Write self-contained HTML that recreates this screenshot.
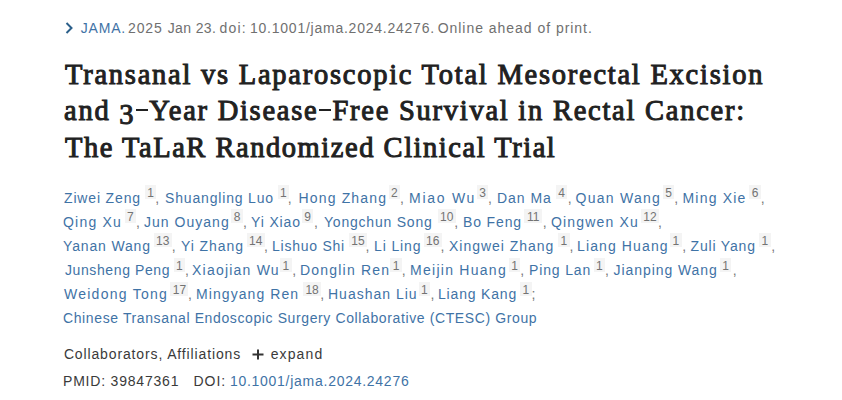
<!DOCTYPE html>
<html><head><meta charset="utf-8">
<style>
html,body{margin:0;padding:0;background:#fff;width:842px;height:400px;overflow:hidden}
body{font-family:"Liberation Sans",sans-serif;color:#212121;position:relative}
.t{position:absolute;white-space:nowrap;line-height:20px;font-size:14px}
.cit{color:#707070}
.j{color:#3f73a6}
.chev{position:absolute;left:65px;top:22px;width:9px;height:12px}
.plus{position:absolute;left:251.5px;top:349.2px;width:12px;height:11px}
.h{position:absolute;left:0;white-space:nowrap;font-family:"Liberation Serif",serif;font-weight:normal;font-size:28.5px;line-height:40px;color:#212121;-webkit-text-stroke:1px #212121}
.o3{position:relative;top:3.5px}
.dash{display:inline-block;width:12px;height:2px;background:#212121;vertical-align:9px;margin:0 1px}
.a{position:absolute;white-space:nowrap;font-size:14px;line-height:20px;color:#3f73a6}
.s{position:absolute;height:14px;background:#f4f4f4;color:#737373;font-size:12px;line-height:16px;text-align:center;overflow:hidden}
.p{position:absolute;font-size:14px;line-height:20px;color:#777}
.d{color:#3a3a3a}
</style></head><body>
<svg class="chev" viewBox="0 0 9 12"><path d="M1.5 1 L6.5 6 L1.5 11" fill="none" stroke="#2b5f8a" stroke-width="2"/></svg>
<div class="t j" id="c1" style="left:80.80px;top:18.00px;letter-spacing:0.800px">JAMA.</div>
<div class="t cit" id="c2" style="left:128.00px;top:18.00px;letter-spacing:0.867px">2025</div>
<div class="t cit" id="c6" style="left:167.70px;top:18.00px;letter-spacing:0.383px">Jan 23.</div>
<div class="t cit" id="c3" style="left:219.40px;top:18.00px;letter-spacing:1.267px">doi:</div>
<div class="t cit" id="c4" style="left:250.00px;top:18.00px;letter-spacing:0.761px">10.1001/jama.2024.24276.</div>
<div class="t cit" id="c5" style="left:437.70px;top:18.00px;letter-spacing:0.967px">Online ahead of print.</div>
<div class="h" id="h1" style="left:65.00px;top:55.00px;letter-spacing:1.752px">Transanal vs Laparoscopic Total Mesorectal Excision</div>
<div class="h" id="h2" style="left:64.00px;top:91.00px;letter-spacing:1.744px">and <span class="o3">3</span><span class="dash"></span>Year Disease<span class="dash"></span>Free Survival in Rectal Cancer:</div>
<div class="h" id="h3" style="left:65.00px;top:128.00px;letter-spacing:1.535px">The TaLaR Randomized Clinical Trial</div>
<span class="a" style="left:64.00px;top:187.5px;letter-spacing:0.844px">Ziwei Zeng</span>
<span class="s" style="left:144.9px;top:185.0px;width:11.5px">1</span>
<span class="p" style="left:155.2px;top:187.5px">,</span>
<span class="a" style="left:165.00px;top:187.5px;letter-spacing:0.831px">Shuangling Luo</span>
<span class="s" style="left:277.6px;top:185.0px;width:11.5px">1</span>
<span class="p" style="left:287.8px;top:187.5px">,</span>
<span class="a" style="left:298.50px;top:187.5px;letter-spacing:1.156px">Hong Zhang</span>
<span class="s" style="left:388.6px;top:185.0px;width:11.5px">2</span>
<span class="p" style="left:400.1px;top:187.5px">,</span>
<span class="a" style="left:409.00px;top:187.5px;letter-spacing:1.733px">Miao Wu</span>
<span class="s" style="left:476.9px;top:185.0px;width:11.5px">3</span>
<span class="p" style="left:487.9px;top:187.5px">,</span>
<span class="a" style="left:497.00px;top:187.5px;letter-spacing:0.960px">Dan Ma</span>
<span class="s" style="left:555.8px;top:185.0px;width:11.5px">4</span>
<span class="p" style="left:567.7px;top:187.5px">,</span>
<span class="a" style="left:575.50px;top:187.5px;letter-spacing:1.275px">Quan Wang</span>
<span class="s" style="left:662.9px;top:185.0px;width:11.5px">5</span>
<span class="p" style="left:674.2px;top:187.5px">,</span>
<span class="a" style="left:682.50px;top:187.5px;letter-spacing:1.200px">Ming Xie</span>
<span class="s" style="left:749.4px;top:185.0px;width:11.5px">6</span>
<span class="p" style="left:760.8px;top:187.5px">,</span>
<span class="a" style="left:63.00px;top:211.7px;letter-spacing:1.200px">Qing Xu</span>
<span class="s" style="left:124.6px;top:209.2px;width:11.5px">7</span>
<span class="p" style="left:136.0px;top:211.7px">,</span>
<span class="a" style="left:144.00px;top:211.7px;letter-spacing:1.022px">Jun Ouyang</span>
<span class="s" style="left:231.3px;top:209.2px;width:11.5px">8</span>
<span class="p" style="left:243.0px;top:211.7px">,</span>
<span class="a" style="left:251.00px;top:211.7px;letter-spacing:0.867px">Yi Xiao</span>
<span class="s" style="left:301.9px;top:209.2px;width:11.5px">9</span>
<span class="p" style="left:314.0px;top:211.7px">,</span>
<span class="a" style="left:324.00px;top:211.7px;letter-spacing:0.783px">Yongchun Song</span>
<span class="s" style="left:437.8px;top:209.2px;width:18px">10</span>
<span class="p" style="left:454.2px;top:211.7px">,</span>
<span class="a" style="left:463.00px;top:211.7px;letter-spacing:0.867px">Bo Feng</span>
<span class="s" style="left:524.3px;top:209.2px;width:18px">11</span>
<span class="p" style="left:542.8px;top:211.7px">,</span>
<span class="a" style="left:551.00px;top:211.7px;letter-spacing:1.156px">Qingwen Xu</span>
<span class="s" style="left:640.9px;top:209.2px;width:18px">12</span>
<span class="p" style="left:658.1px;top:211.7px">,</span>
<span class="a" style="left:63.00px;top:235.9px;letter-spacing:0.844px">Yanan Wang</span>
<span class="s" style="left:153.7px;top:233.4px;width:18px">13</span>
<span class="p" style="left:171.7px;top:235.9px">,</span>
<span class="a" style="left:181.00px;top:235.9px;letter-spacing:0.914px">Yi Zhang</span>
<span class="s" style="left:246.8px;top:233.4px;width:18px">14</span>
<span class="p" style="left:263.9px;top:235.9px">,</span>
<span class="a" style="left:272.00px;top:235.9px;letter-spacing:0.756px">Lishuo Shi</span>
<span class="s" style="left:348.9px;top:233.4px;width:18px">15</span>
<span class="p" style="left:365.6px;top:235.9px">,</span>
<span class="a" style="left:374.00px;top:235.9px;letter-spacing:0.867px">Li Ling</span>
<span class="s" style="left:423.7px;top:233.4px;width:18px">16</span>
<span class="p" style="left:440.4px;top:235.9px">,</span>
<span class="a" style="left:449.00px;top:235.9px;letter-spacing:0.967px">Xingwei Zhang</span>
<span class="s" style="left:558.0px;top:233.4px;width:11.5px">1</span>
<span class="p" style="left:569.4px;top:235.9px">,</span>
<span class="a" style="left:577.00px;top:235.9px;letter-spacing:1.120px">Liang Huang</span>
<span class="s" style="left:670.2px;top:233.4px;width:11.5px">1</span>
<span class="p" style="left:682.2px;top:235.9px">,</span>
<span class="a" style="left:690.50px;top:235.9px;letter-spacing:0.825px">Zuli Yang</span>
<span class="s" style="left:759.0px;top:233.4px;width:11.5px">1</span>
<span class="p" style="left:771.3px;top:235.9px">,</span>
<span class="a" style="left:65.00px;top:260.0px;letter-spacing:0.600px">Junsheng Peng</span>
<span class="s" style="left:173.7px;top:257.5px;width:11.5px">1</span>
<span class="p" style="left:185.1px;top:260.0px">,</span>
<span class="a" style="left:192.00px;top:260.0px;letter-spacing:1.220px">Xiaojian Wu</span>
<span class="s" style="left:280.1px;top:257.5px;width:11.5px">1</span>
<span class="p" style="left:292.3px;top:260.0px">,</span>
<span class="a" style="left:300.00px;top:260.0px;letter-spacing:1.200px">Donglin Ren</span>
<span class="s" style="left:390.4px;top:257.5px;width:11.5px">1</span>
<span class="p" style="left:401.8px;top:260.0px">,</span>
<span class="a" style="left:410.00px;top:260.0px;letter-spacing:1.273px">Meijin Huang</span>
<span class="s" style="left:508.8px;top:257.5px;width:11.5px">1</span>
<span class="p" style="left:520.2px;top:260.0px">,</span>
<span class="a" style="left:529.00px;top:260.0px;letter-spacing:0.857px">Ping Lan</span>
<span class="s" style="left:593.6px;top:257.5px;width:11.5px">1</span>
<span class="p" style="left:605.0px;top:260.0px">,</span>
<span class="a" style="left:613.50px;top:260.0px;letter-spacing:0.933px">Jianping Wang</span>
<span class="s" style="left:719.9px;top:257.5px;width:11.5px">1</span>
<span class="p" style="left:732.7px;top:260.0px">,</span>
<span class="a" style="left:64.00px;top:284.1px;letter-spacing:1.255px">Weidong Tong</span>
<span class="s" style="left:170.4px;top:281.6px;width:18px">17</span>
<span class="p" style="left:188.1px;top:284.1px">,</span>
<span class="a" style="left:196.00px;top:284.1px;letter-spacing:1.073px">Mingyang Ren</span>
<span class="s" style="left:303.1px;top:281.6px;width:18px">18</span>
<span class="p" style="left:320.3px;top:284.1px">,</span>
<span class="a" style="left:328.00px;top:284.1px;letter-spacing:1.000px">Huashan Liu</span>
<span class="s" style="left:418.6px;top:281.6px;width:11.5px">1</span>
<span class="p" style="left:430.6px;top:284.1px">,</span>
<span class="a" style="left:438.00px;top:284.1px;letter-spacing:0.822px">Liang Kang</span>
<span class="s" style="left:520.1px;top:281.6px;width:11.5px">1</span>
<span class="p" style="left:531.6px;top:284.1px">;</span>
<div class="a" id="g1" style="left:63.00px;top:308.00px;letter-spacing:0.613px">Chinese Transanal Endoscopic Surgery Collaborative (CTESC) Group</div>
<div class="t d" id="b1" style="left:63.90px;top:344.00px;letter-spacing:0.865px">Collaborators, Affiliations</div>
<svg class="plus" viewBox="0 0 12 11"><path d="M6 0.5 V10.5 M0.5 5.5 H11.5" stroke="#333" stroke-width="2" fill="none"/></svg>
<div class="t d" id="b2" style="left:270.70px;top:344.00px;letter-spacing:1.120px">expand</div>
<div class="t d" id="b3" style="left:63.00px;top:371.00px;letter-spacing:0.800px">PMID: 39847361</div>
<div class="t d" id="b4" style="left:193.60px;top:371.00px;letter-spacing:0.900px">DOI:</div>
<div class="t j" id="b5" style="left:229.90px;top:371.00px;letter-spacing:0.732px">10.1001/jama.2024.24276</div>
</body></html>
